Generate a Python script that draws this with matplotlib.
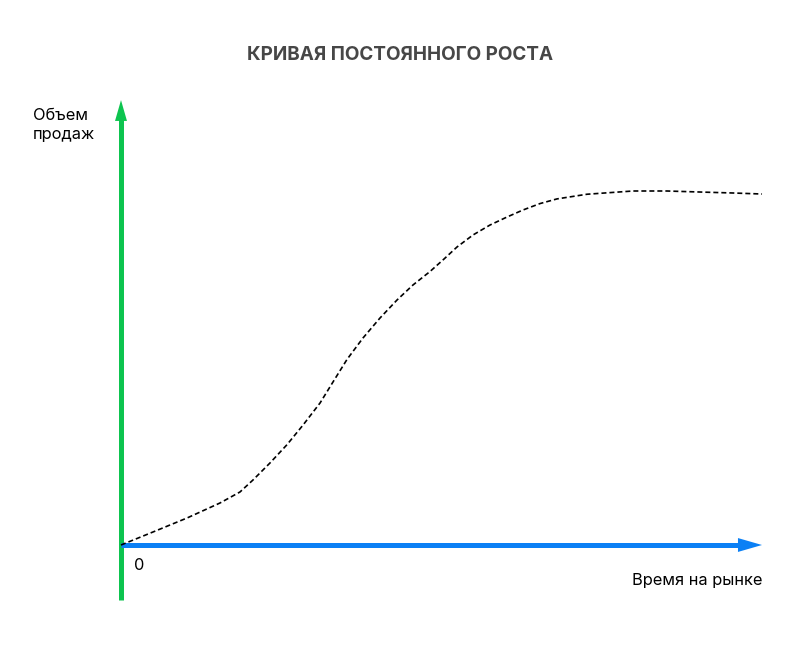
import matplotlib
matplotlib.use("Agg")
import matplotlib.pyplot as plt

# Data (abstract units: time 0..100, sales 0..100)
time_vals = [0, 4.99, 10.30, 15.44, 18.56, 20.59, 23.24, 25.90, 28.39, 31.05, 33.07,
             35.26, 37.75, 40.41, 43.06, 45.55, 48.21, 50.39, 52.42, 54.91, 57.57,
             60.22, 62.71, 65.37, 68.02, 72.70, 79.88, 85.18, 90.33, 95.48, 100]
sales_vals = [0, 2.93, 6.08, 9.46, 11.94, 14.64, 18.47, 22.60, 27.00, 31.98, 36.71,
              41.80, 46.62, 51.13, 55.18, 58.56, 61.60, 64.41, 67.12, 69.82, 72.07,
              73.87, 75.45, 76.90, 77.95, 79.00, 79.73, 79.73, 79.50, 79.28, 79.05]

title = "КРИВАЯ ПОСТОЯННОГО РОСТА"
y_label = "Объем\nпродаж"
x_label = "Время на рынке"
origin_label = "0"

W, H = 800, 646
fig = plt.figure(figsize=(W / 100, H / 100), dpi=100)
ax = fig.add_axes([121 / W, (H - 545) / H, (762 - 121) / W, (545 - 101) / H])
ax.set_xlim(0, 100)
ax.set_ylim(0, 100)
ax.axis("off")

font = "Inter"
green = "#0dc44f"
blue = "#0b80f5"

# curve
ax.plot(time_vals, sales_vals, color="black", lw=1.2, linestyle=(0, (3, 1.8)),
        solid_joinstyle="round", dash_joinstyle="round",
        zorder=3, clip_on=False)

# axes: shafts
ax.plot([0, 0], [-12.4, 96], color=green, lw=3.6, solid_capstyle="butt",
        clip_on=False, zorder=2)
ax.plot([0, 97], [0, 0], color=blue, lw=3.6, solid_capstyle="butt",
        clip_on=False, zorder=2)
# axes: heads
ax.annotate("", xy=(0, 100.2), xytext=(0, 90),
            arrowprops=dict(arrowstyle="-|>,head_length=1.5,head_width=0.43",
                            color=green, lw=0, shrinkA=0, shrinkB=0,
                            mutation_scale=10), zorder=2, annotation_clip=False)
ax.annotate("", xy=(100, 0), xytext=(90, 0),
            arrowprops=dict(arrowstyle="-|>,head_length=1.73,head_width=0.5",
                            color=blue, lw=0, shrinkA=0, shrinkB=0,
                            mutation_scale=10), zorder=2, annotation_clip=False)

# texts
fig.text(400 / W, 1 - 55 / H, title, ha="center", va="center", fontsize=13.6,
         fontweight="bold", color="#474747", family=font)
fig.text(33 / W, 1 - 125 / H, y_label, ha="left", va="center", fontsize=11.8,
         color="black", family=font, linespacing=1.3)
fig.text(762 / W, 1 - 580 / H, x_label, ha="right", va="center", fontsize=11.8,
         color="black", family=font)
fig.text(139 / W, 1 - 565 / H, origin_label, ha="center", va="center", fontsize=11.8,
         color="black", family=font)

fig.savefig("out.png", dpi=100, facecolor="white")
